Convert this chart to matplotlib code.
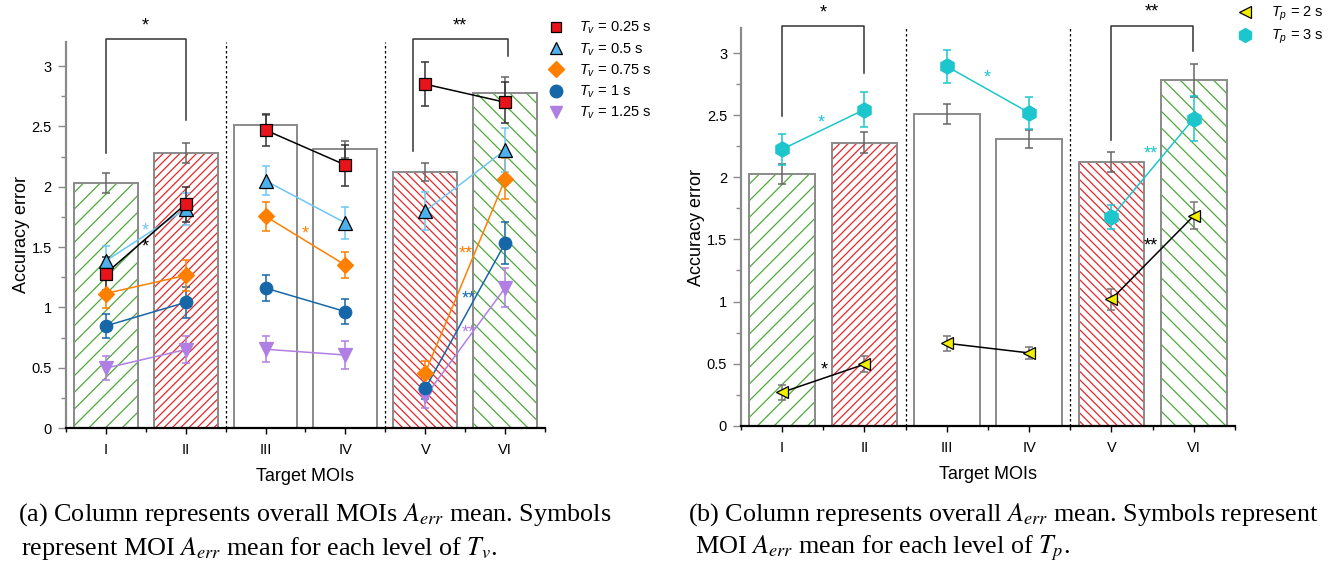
import matplotlib.pyplot as plt
from matplotlib.lines import Line2D
import numpy as np

plt.rcParams['font.family'] = ['Liberation Sans', 'DejaVu Sans']
plt.rcParams['mathtext.fontset'] = 'custom'
plt.rcParams['mathtext.it'] = 'Liberation Sans:italic'
plt.rcParams['mathtext.rm'] = 'Liberation Sans'
plt.rcParams['hatch.linewidth'] = 0.9

# data
moi = ['I', 'II', 'III', 'IV', 'V', 'VI']
col_mean = [2.03, 2.28, 2.51, 2.31, 2.12, 2.78]
col_err_a = [0.08, 0.085, 0.085, 0.07, 0.075, 0.13]
col_err_b = [0.08, 0.085, 0.08, 0.07, 0.08, 0.13]

tv_labels = ['$T_v$ = 0.25 s', '$T_v$ = 0.5 s', '$T_v$ = 0.75 s', '$T_v$ = 1 s', '$T_v$ = 1.25 s']
tv_025 = [1.28, 1.855, 2.47, 2.18, 2.85, 2.70]
tv_025_err = [0.14, 0.145, 0.13, 0.17, 0.18, 0.17]
tv_05 = [1.385, 1.815, 2.05, 1.70, 1.80, 2.305]
tv_05_err = [0.12, 0.13, 0.12, 0.13, 0.16, 0.18]
tv_075 = [1.115, 1.265, 1.755, 1.35, 0.46, 2.065]
tv_075_err = [0.12, 0.13, 0.12, 0.11, 0.095, 0.17]
tv_1 = [0.846, 1.041, 1.16, 0.965, 0.328, 1.535]
tv_1_err = [0.10, 0.13, 0.11, 0.105, 0.09, 0.175]
tv_125 = [0.496, 0.650, 0.653, 0.605, 0.262, 1.163]
tv_125_err = [0.10, 0.115, 0.106, 0.12, 0.10, 0.16]

tp_labels = ['$T_p$ = 2 s', '$T_p$ = 3 s']
tp_2 = [0.269, 0.495, 0.664, 0.586, 1.019, 1.69]
tp_2_err = [0.06, 0.065, 0.06, 0.05, 0.085, 0.11]
tp_3 = [2.226, 2.546, 2.893, 2.52, 1.68, 2.473]
tp_3_err = [0.125, 0.14, 0.13, 0.13, 0.095, 0.18]

GREEN = '#4FA83D'
RED = '#E8262B'
hatch_cols = [GREEN, RED, None, None, RED, GREEN]
hatches = ['//', '////', '', '', '\\\\\\\\', '\\\\']

fig = plt.figure(figsize=(13.38, 5.69), dpi=100)
ax1 = fig.add_axes([0.0491, 0.2478, 0.3584, 0.6784])
ax2 = fig.add_axes([0.5538, 0.2518, 0.3692, 0.6985])

x = np.arange(1, 7)


def draw_columns(ax, err):
    for i in range(6):
        if hatch_cols[i]:
            ax.bar(x[i], col_mean[i], 0.8, color='none', edgecolor=hatch_cols[i],
                   hatch=hatches[i], linewidth=0, zorder=1)
        ax.bar(x[i], col_mean[i], 0.8, color='none', edgecolor='#8a8a8a',
               linewidth=1.4, zorder=2)
    ax.errorbar(x, col_mean, yerr=err, fmt='none', ecolor='#666666',
                elinewidth=1.1, capsize=3, capthick=1.1, zorder=3)
    for xv in (2.5, 4.5):
        ax.axvline(xv, color='black', ls=(0, (2, 2)), lw=0.9, zorder=1)


def draw_series(ax, y, e, marker, ms, fc, ec, lcol, ecol):
    for i in (0, 2, 4):
        ax.plot(x[i:i + 2], y[i:i + 2], color=lcol, lw=1.1, zorder=4)
    ax.errorbar(x, y, yerr=e, fmt='none', ecolor=ecol, elinewidth=1.1,
                capsize=3, capthick=1.1, zorder=5)
    ax.plot(x, y, ls='none', marker=marker, ms=ms, mfc=fc, mec=ec, mew=0.9, zorder=6)


def star(ax, xv, yv, s, c):
    ax.text(xv, yv, s, color=c, ha='center', va='center', fontsize=13)


def bracket(ax, x0, x1, y0, y1, top, label, sy):
    ax.plot([x0, x0, x1, x1], [y0, top, top, y1], color='#333333', lw=1.1,
            clip_on=False, zorder=3)
    ax.text((x0 + x1) / 2, sy, label, ha='center', va='center', fontsize=13,
            clip_on=False)


def style_axes(ax):
    ax.set_xlim(0.5, 6.5)
    ax.set_ylim(0, 3.2)
    for s in ('top', 'right'):
        ax.spines[s].set_visible(False)
    ax.spines['left'].set_color('#8a8a8a')
    ax.spines['left'].set_linewidth(1.6)
    ax.spines['bottom'].set_color('black')
    ax.spines['bottom'].set_linewidth(1.6)
    ax.set_yticks([0, 0.5, 1, 1.5, 2, 2.5, 3])
    ax.set_yticklabels(['0', '0.5', '1', '1.5', '2', '2.5', '3'])
    ax.set_yticks(np.arange(0.25, 3.2, 0.5), minor=True)
    ax.tick_params(axis='y', which='major', length=6, width=1, color='#8a8a8a',
                   labelsize=10.5, pad=4)
    ax.tick_params(axis='y', which='minor', length=3.5, width=1, color='#8a8a8a')
    ax.set_xticks(x)
    ax.set_xticklabels(moi)
    ax.set_xticks(np.arange(0.5, 6.6, 1), minor=True)
    ax.tick_params(axis='x', which='major', length=4, width=1, labelsize=10.5, pad=7)
    ax.tick_params(axis='x', which='minor', length=3, width=1)
    ax.set_xlabel('Target MOIs', fontsize=13, labelpad=8)
    ax.set_ylabel('Accuracy error', fontsize=13, labelpad=1)


# ---- (a) ----
draw_columns(ax1, col_err_a)
draw_series(ax1, tv_125, tv_125_err, 'v', 10, '#B07FE3', '#B07FE3', '#B07FE3', '#B07FE3')
draw_series(ax1, tv_1, tv_1_err, 'o', 9, '#1767A8', '#1767A8', '#1767A8', '#1767A8')
draw_series(ax1, tv_075, tv_075_err, 'D', 8, '#FF8000', '#FF8000', '#FF8000', '#FF8000')
draw_series(ax1, tv_05, tv_05_err, '^', 10, '#4DB2EC', 'black', '#6EC6F5', '#6EC6F5')
draw_series(ax1, tv_025, tv_025_err, 's', 8, '#E8141B', 'black', 'black', '#333333')

star(ax1, 1.49, 1.63, '*', '#6EC6F5')
star(ax1, 1.49, 1.50, '*', 'black')
star(ax1, 3.50, 1.61, '*', '#FF8000')
star(ax1, 5.51, 1.44, '**', '#FF8000')
star(ax1, 5.54, 1.07, '**', '#1767A8')
star(ax1, 5.54, 0.79, '**', '#B07FE3')

bracket(ax1, 1.0, 2.0, 2.28, 2.55, 3.225, '*', 3.33)
bracket(ax1, 4.84, 6.03, 2.30, 3.08, 3.225, '**', 3.33)
style_axes(ax1)

h1 = [Line2D([], [], ls='none', marker='s', ms=7, mfc='#E8141B', mec='black', mew=0.9),
      Line2D([], [], ls='none', marker='^', ms=9, mfc='#4DB2EC', mec='black', mew=0.9),
      Line2D([], [], ls='none', marker='D', ms=8, mfc='#FF8000', mec='#FF8000'),
      Line2D([], [], ls='none', marker='o', ms=9, mfc='#1767A8', mec='#1767A8'),
      Line2D([], [], ls='none', marker='v', ms=9, mfc='#B07FE3', mec='#B07FE3')]
leg1 = fig.legend(h1, tv_labels, loc='upper left', bbox_to_anchor=(546 / 1338, 1 - 20 / 569),
                  frameon=False, fontsize=10.5, handlelength=1.4, handletextpad=0.85,
                  labelspacing=0.33, borderpad=0, borderaxespad=0)

# ---- (b) ----
draw_columns(ax2, col_err_b)
draw_series(ax2, tp_2, tp_2_err, '<', 9, '#F2EE00', 'black', 'black', '#777777')
draw_series(ax2, tp_3, tp_3_err, 'h', 11, '#1CC6CC', '#1CC6CC', '#1CC6CC', '#1CC6CC')

star(ax2, 1.47, 2.44, '*', '#1CC6CC')
star(ax2, 3.49, 2.80, '*', '#1CC6CC')
star(ax2, 1.51, 0.45, '*', 'black')
star(ax2, 5.48, 2.19, '**', '#1CC6CC')
star(ax2, 5.48, 1.45, '**', 'black')

bracket(ax2, 1.0, 2.0, 2.49, 2.84, 3.22, '*', 3.32)
bracket(ax2, 4.99, 5.99, 2.30, 3.02, 3.22, '**', 3.33)
style_axes(ax2)

h2 = [Line2D([], [], ls='none', marker='<', ms=9, mfc='#F2EE00', mec='black', mew=0.9),
      Line2D([], [], ls='none', marker='h', ms=10, mfc='#1CC6CC', mec='#1CC6CC')]
leg2 = fig.legend(h2, tp_labels, loc='upper left', bbox_to_anchor=(1235 / 1338, 1 - 5 / 569),
                  frameon=False, fontsize=10.5, handlelength=1.4, handletextpad=1.05,
                  labelspacing=0.33, borderpad=0, borderaxespad=0)

# captions
cap_kw = dict(fontsize=18.8, family='Liberation Serif', math_fontfamily='stix', va='center')
fig.text(18 / 1338, 1 - 515 / 569,
         '(a) Column represents overall MOIs $A_{err}$ mean. Symbols', **cap_kw)
fig.text(21 / 1338, 1 - 548 / 569,
         'represent MOI $A_{err}$ mean for each level of $T_v$.', **cap_kw)
fig.text(688 / 1338, 1 - 515 / 569,
         '(b) Column represents overall $A_{err}$ mean. Symbols represent', **cap_kw)
fig.text(695 / 1338, 1 - 548 / 569,
         'MOI $A_{err}$ mean for each level of $T_p$.', **cap_kw)

fig.savefig('out.png', dpi=100)
